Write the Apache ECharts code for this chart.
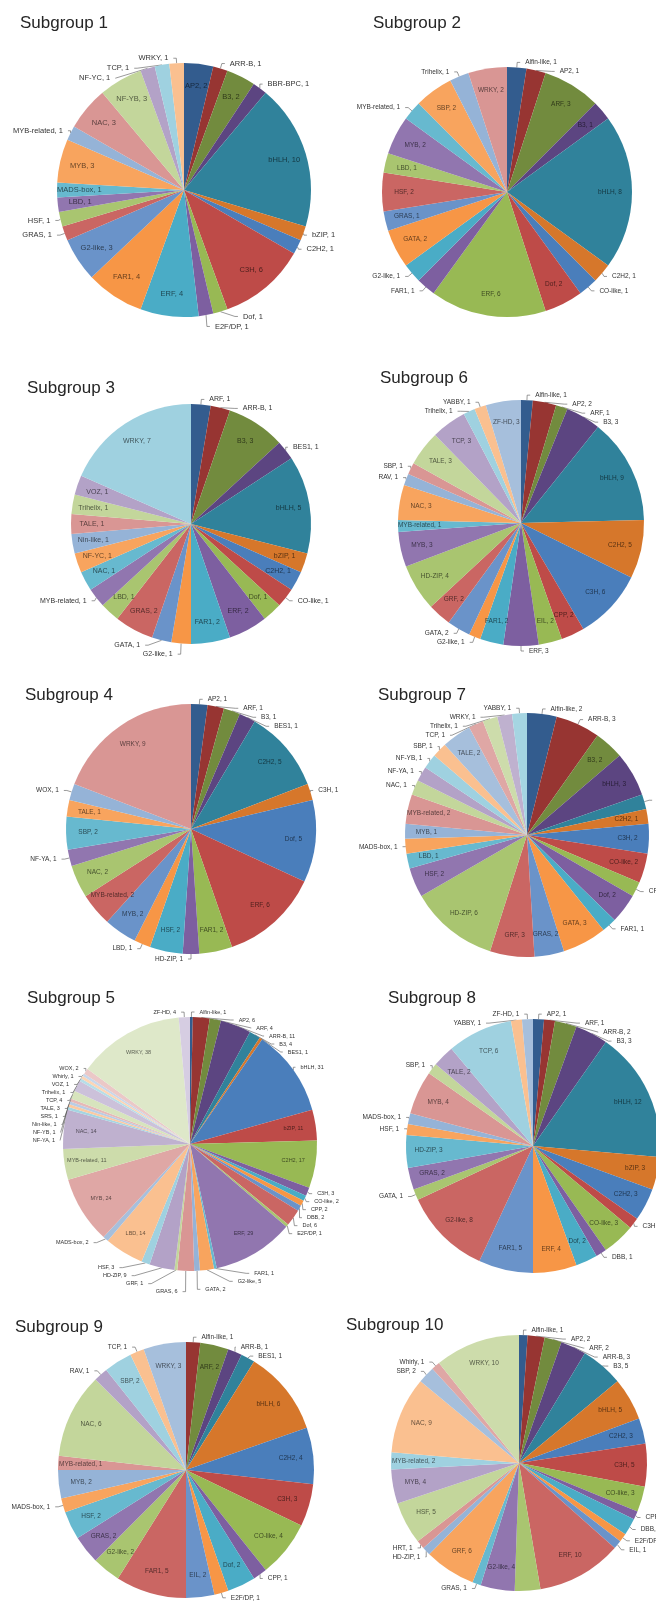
<!DOCTYPE html>
<html>
<head>
<meta charset="utf-8">
<script src="https://cdn.jsdelivr.net/npm/echarts@6/dist/echarts.min.js"></script>
<style>
  html, body { margin: 0; padding: 0; background: #ffffff; }
  #chart { width: 656px; height: 1607px; }
</style>
</head>
<body>
<div id="chart"></div>
<script>
// Transcription-factor family counts per subgroup, listed in clockwise slice order
const sg1Names = ['AP2','ARR-B','B3','BBR-BPC','bHLH','bZIP','C2H2','C3H','Dof','E2F/DP','ERF','FAR1','G2-like','GRAS','HSF','LBD','MADS-box','MYB','MYB-related','NAC','NF-YB','NF-YC','TCP','WRKY'];
const sg1Values = [2,1,2,1,10,1,1,6,1,1,4,4,3,1,1,1,1,3,1,3,3,1,1,1];

const sg2Names = ['Alfin-like','AP2','ARF','B3','bHLH','C2H2','CO-like','Dof','ERF','FAR1','G2-like','GATA','GRAS','HSF','LBD','MYB','MYB-related','SBP','Trihelix','WRKY'];
const sg2Values = [1,1,3,1,8,1,1,2,6,1,1,2,1,2,1,2,1,2,1,2];

const sg3Names = ['ARF','ARR-B','B3','BES1','bHLH','bZIP','C2H2','CO-like','Dof','ERF','FAR1','G2-like','GATA','GRAS','LBD','MYB-related','NAC','NF-YC','Nin-like','TALE','Trihelix','VOZ','WRKY'];
const sg3Values = [1,1,3,1,5,1,1,1,1,2,2,1,1,2,1,1,1,1,1,1,1,1,7];

const sg4Names = ['AP2','ARF','B3','BES1','C2H2','C3H','Dof','ERF','FAR1','HD-ZIP','HSF','LBD','MYB','MYB-related','NAC','NF-YA','SBP','TALE','WOX','WRKY'];
const sg4Values = [1,1,1,1,5,1,5,6,2,1,2,1,2,2,2,1,2,1,1,9];

const sg5Names = ['Alfin-like','AP2','ARF','ARR-B','B3','BES1','bHLH','bZIP','C2H2','C3H','CO-like','CPP','DBB','Dof','E2F/DP','ERF','FAR1','G2-like','GATA','GRAS','GRF','HD-ZIP','HSF','LBD','MADS-box','MYB','MYB-related','NAC','NF-YA','NF-YB','Nin-like','SRS','TALE','TCP','Trihelix','VOZ','Whirly','WOX','WRKY','ZF-HD'];
const sg5Values = [1,6,4,11,4,1,31,11,17,3,2,2,2,6,1,29,1,5,2,6,1,9,3,14,2,24,11,14,1,1,1,1,3,4,1,1,1,2,38,4];

const sg6Names = ['Alfin-like','AP2','ARF','B3','bHLH','C2H2','C3H','CPP','EIL','ERF','FAR1','G2-like','GATA','GRF','HD-ZIP','MYB','MYB-related','NAC','RAV','SBP','TALE','TCP','Trihelix','YABBY','ZF-HD'];
const sg6Values = [1,2,1,3,9,5,6,2,2,3,2,1,2,2,4,3,1,3,1,1,3,3,1,1,3];

const sg7Names = ['Alfin-like','ARR-B','B3','bHLH','bZIP','C2H2','C3H','CO-like','CPP','Dof','FAR1','GATA','GRAS','GRF','HD-ZIP','HSF','LBD','MADS-box','MYB','MYB-related','NAC','NF-YA','NF-YB','SBP','TALE','TCP','Trihelix','WRKY','YABBY'];
const sg7Values = [2,3,2,3,1,1,2,2,1,2,1,3,2,3,6,2,1,1,1,2,1,1,1,1,2,1,1,1,1];

const sg8Names = ['AP2','ARF','ARR-B','B3','bHLH','bZIP','C2H2','C3H','CO-like','DBB','Dof','ERF','FAR1','G2-like','GATA','GRAS','HD-ZIP','HSF','MADS-box','MYB','SBP','TALE','TCP','YABBY','ZF-HD'];
const sg8Values = [1,1,2,3,12,3,3,1,3,1,2,4,5,8,1,2,3,1,1,4,1,2,6,1,1];

const sg9Names = ['Alfin-like','ARF','ARR-B','BES1','bHLH','C2H2','C3H','CO-like','CPP','Dof','E2F/DP','EIL','FAR1','G2-like','GRAS','HSF','MADS-box','MYB','MYB-related','NAC','RAV','SBP','TCP','WRKY'];
const sg9Values = [1,2,1,1,6,4,3,4,1,2,1,2,5,2,2,2,1,2,1,6,1,2,1,3];

const sg10Names = ['Alfin-like','AP2','ARF','ARR-B','B3','bHLH','C2H2','C3H','CO-like','CPP','DBB','E2F/DP','EIL','ERF','FAR1','G2-like','GRAS','GRF','HD-ZIP','HRT','HSF','MYB','MYB-related','NAC','SBP','Whirly','WRKY'];
const sg10Values = [1,2,2,3,5,5,3,5,3,1,2,1,1,10,3,4,1,6,1,1,5,4,2,9,2,1,10];

// Slice colours: six hues repeated in tiers from dark to pale
const PALETTE = [
  '#335C8E','#973532','#728B3E','#5C4581','#30829B','#D6772B',
  '#4A7EBB','#BE4B48','#98B954','#7D5FA0','#4AACC6','#F79646',
  '#6A93C9','#CA6663','#A9C570','#9176AF','#67B9CF','#F8A45E',
  '#95B3D7','#D99694','#C3D69B','#B3A2C7','#9FD1E0','#FAC090',
  '#A6BFDC','#DFA7A5','#CDDCAB','#BFB1CF','#A5D5E2','#FBCAA2',
  '#B9CDE5','#E6B9B8','#D7E4BD','#CCC1DA','#B7DEE8','#FCD5B5',
  '#C8D7EA','#EBC8C7','#DEE8C9','#D6CDE2','#C7E5EE','#FDDDC4'
];

const SANS = '"Liberation Sans", Arial, sans-serif';
const NARROW = '"Liberation Sans Narrow", "Liberation Sans", Arial, sans-serif';

// Panel layout; "outside" lists slices whose labels sit on leader lines
const panels = [
  { title: 'Subgroup 1', names: sg1Names, values: sg1Values, tx: 15, ty: 10, cx: 184, cy: 190, r: 127, font: 7.5, family: SANS,
    outside: ['ARR-B','BBR-BPC','bZIP','C2H2','Dof','E2F/DP','GRAS','HSF','MYB-related','NF-YC','TCP','WRKY'] },
  { title: 'Subgroup 2', names: sg2Names, values: sg2Values, tx: 368, ty: 10, cx: 507, cy: 192, r: 125, font: 6.5, family: NARROW,
    outside: ['Alfin-like','AP2','C2H2','CO-like','FAR1','G2-like','MYB-related','Trihelix'] },
  { title: 'Subgroup 3', names: sg3Names, values: sg3Values, tx: 22, ty: 375, cx: 191, cy: 524, r: 120, font: 7, family: SANS,
    outside: ['ARF','ARR-B','BES1','CO-like','G2-like','GATA','MYB-related'] },
  { title: 'Subgroup 6', names: sg6Names, values: sg6Values, tx: 375, ty: 365, cx: 521, cy: 523, r: 123, font: 6.5, family: NARROW,
    outside: ['Alfin-like','AP2','ARF','B3','ERF','G2-like','GATA','RAV','SBP','Trihelix','YABBY'] },
  { title: 'Subgroup 4', names: sg4Names, values: sg4Values, tx: 20, ty: 682, cx: 191, cy: 829, r: 125, font: 6.5, family: NARROW,
    outside: ['AP2','ARF','B3','BES1','C3H','HD-ZIP','LBD','NF-YA','WOX'] },
  { title: 'Subgroup 7', names: sg7Names, values: sg7Values, tx: 373, ty: 682, cx: 527, cy: 835, r: 122, font: 6.5, family: NARROW,
    outside: ['Alfin-like','ARR-B','bZIP','CPP','FAR1','MADS-box','NAC','NF-YA','NF-YB','SBP','TCP','Trihelix','WRKY','YABBY'] },
  { title: 'Subgroup 5', names: sg5Names, values: sg5Values, tx: 22, ty: 985, cx: 190, cy: 1144, r: 127, font: 5.5, family: NARROW,
    inside: ['bZIP','C2H2','ERF','LBD','MYB','MYB-related','NAC','WRKY'] },
  { title: 'Subgroup 8', names: sg8Names, values: sg8Values, tx: 383, ty: 985, cx: 533, cy: 1146, r: 127, font: 6.5, family: NARROW,
    outside: ['AP2','ARF','ARR-B','B3','C3H','DBB','GATA','HSF','MADS-box','SBP','YABBY','ZF-HD'] },
  { title: 'Subgroup 9', names: sg9Names, values: sg9Values, tx: 10, ty: 1314, cx: 186, cy: 1470, r: 128, font: 6.5, family: NARROW,
    colorOffset: 1,
    outside: ['Alfin-like','ARR-B','BES1','CPP','E2F/DP','MADS-box','RAV','TCP'] },
  { title: 'Subgroup 10', names: sg10Names, values: sg10Values, tx: 341, ty: 1312, cx: 519, cy: 1463, r: 128, font: 6.5, family: NARROW,
    outside: ['Alfin-like','AP2','ARF','ARR-B','B3','CPP','DBB','E2F/DP','EIL','GRAS','HD-ZIP','HRT','SBP','Whirly'] }
];

function darken(hex, k) {
  const n = parseInt(hex.slice(1), 16);
  const r = Math.round(((n >> 16) & 255) * k);
  const g = Math.round(((n >> 8) & 255) * k);
  const b = Math.round((n & 255) * k);
  return 'rgb(' + r + ',' + g + ',' + b + ')';
}

const titles = [];
const series = [];

panels.forEach(function (p) {
  const offset = p.colorOffset || 0;
  const colors = p.names.map(function (_, i) { return PALETTE[(i + offset) % PALETTE.length]; });
  const isOutside = function (name) {
    return p.inside ? p.inside.indexOf(name) < 0 : p.outside.indexOf(name) >= 0;
  };

  titles.push({
    text: p.title, left: p.tx, top: p.ty,
    textStyle: { fontFamily: SANS, fontSize: 17, fontWeight: 'normal', color: '#262626' }
  });

  // Filled slices
  series.push({
    type: 'pie', center: [p.cx, p.cy], radius: [0, p.r],
    startAngle: 90, clockwise: true, silent: true, animation: false,
    label: { show: false }, labelLine: { show: false },
    emphasis: { disabled: true },
    data: p.names.map(function (n, i) {
      return { name: n, value: p.values[i], itemStyle: { color: colors[i] } };
    })
  });

  // Transparent outer ring carrying the value labels
  series.push({
    type: 'pie', center: [p.cx, p.cy], radius: [p.r * 0.6, p.r],
    startAngle: 90, clockwise: true, silent: true, animation: false,
    emphasis: { disabled: true },
    avoidLabelOverlap: true,
    itemStyle: { color: 'rgba(0,0,0,0)' },
    label: { show: true, formatter: '{b}, {c}', fontSize: p.font, fontFamily: p.family, overflow: 'none' },
    labelLine: { length: 5, length2: 3, lineStyle: { color: '#555555', width: 0.6 } },
    data: p.names.map(function (n, i) {
      const out = isOutside(n);
      return {
        name: n, value: p.values[i],
        label: out ? { position: 'outside', color: '#333333' }
                   : { position: 'inside', color: darken(colors[i], 0.42) },
        labelLine: { show: out }
      };
    })
  });
});

const chart = echarts.init(document.getElementById('chart'), null, { renderer: 'canvas' });
chart.setOption({
  backgroundColor: '#ffffff',
  animation: false,
  title: titles,
  series: series
});
</script>
</body>
</html>
